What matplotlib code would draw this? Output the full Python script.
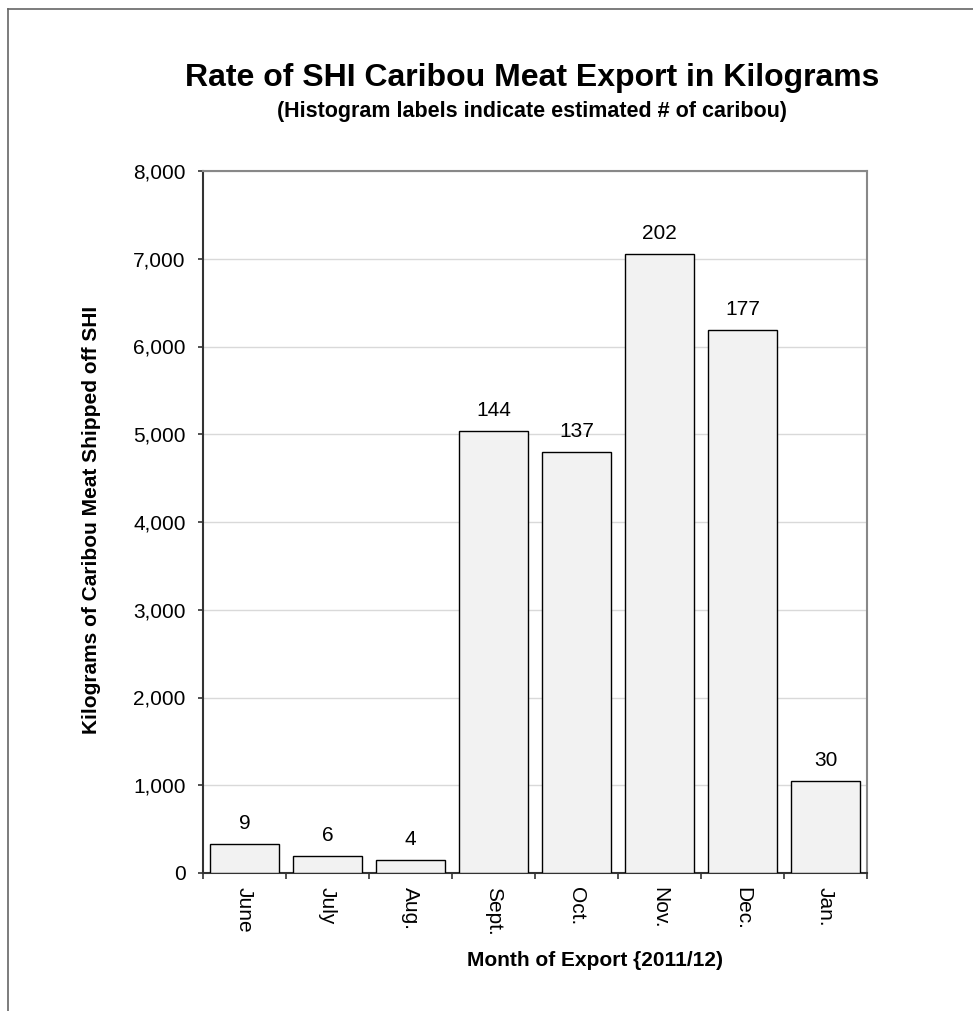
import matplotlib
matplotlib.use('Agg')
import matplotlib.pyplot as plt
from matplotlib.lines import Line2D

plt.rcParams['font.family'] = ['Liberation Sans', 'DejaVu Sans']

months = ['June', 'July', 'Aug.', 'Sept.', 'Oct.', 'Nov.', 'Dec.', 'Jan.']
kilograms = [327, 194, 148, 5037, 4798, 7051, 6188, 1048]
caribou = [9, 6, 4, 144, 137, 202, 177, 30]

W, H = 973, 1011
fig = plt.figure(figsize=(W / 100, H / 100), dpi=100)

# outer frame (cropped on right/bottom)
fx, fy = 7.5 / W, 1 - 8.5 / H
fig.add_artist(Line2D([fx, fx], [0, fy], transform=fig.transFigure, color='#666666', lw=1.2))
fig.add_artist(Line2D([fx, 1], [fy, fy], transform=fig.transFigure, color='#666666', lw=1.2))

ax = fig.add_axes([203 / W, 1 - 873 / H, 664 / W, 702 / H])

x = range(len(months))
ax.bar(x, kilograms, width=0.843, color='#f2f2f2', edgecolor='black', lw=1.0, zorder=3)
for i, (k, c) in enumerate(zip(kilograms, caribou)):
    ax.annotate(str(c), (i, k), xytext=(0, 8), textcoords='offset points',
                ha='center', va='bottom', fontsize=15)

ax.set_xlim(-0.5, 7.5)
ax.set_ylim(0, 8000)
ax.set_yticks(range(0, 8001, 1000))
ax.set_yticklabels([f'{v:,}' for v in range(0, 8001, 1000)], fontsize=15)
ax.grid(axis='y', color='#d9d9d9', lw=1.0, zorder=0)

ax.set_xticks(list(x))
ax.set_xticklabels(months, rotation=-90, fontsize=15, va='top')
ax.tick_params(axis='x', which='major', length=0, pad=10)
ax.set_xticks([i - 0.5 for i in range(len(months) + 1)], minor=True)
ax.tick_params(axis='x', which='minor', length=4.3, direction='out', width=1.2, color='#333333')
ax.tick_params(axis='y', length=3.6, direction='out', width=1.2, color='#333333', pad=9)

ax.spines['left'].set_color('#333333')
ax.spines['bottom'].set_color('#333333')
ax.spines['left'].set_linewidth(1.5)
ax.spines['bottom'].set_linewidth(1.5)
for s in ['top', 'right']:
    ax.spines[s].set_color('#888888')
    ax.spines[s].set_linewidth(1.5)

fig.text(92 / W, 1 - 520 / H, 'Kilograms of Caribou Meat Shipped off SHI', rotation=90,
         ha='center', va='center', fontsize=15, fontweight='bold')
fig.text(595 / W, 1 - 960 / H, 'Month of Export {2011/12)',
         ha='center', va='center', fontsize=15, fontweight='bold')

fig.text(532 / W, 1 - 78 / H, 'Rate of SHI Caribou Meat Export in Kilograms',
         ha='center', va='center', fontsize=23, fontweight='bold')
fig.text(532 / W, 1 - 112 / H, '(Histogram labels indicate estimated # of caribou)',
         ha='center', va='center', fontsize=15.5, fontweight='bold')

fig.savefig('out.png', dpi=100, facecolor='white')
